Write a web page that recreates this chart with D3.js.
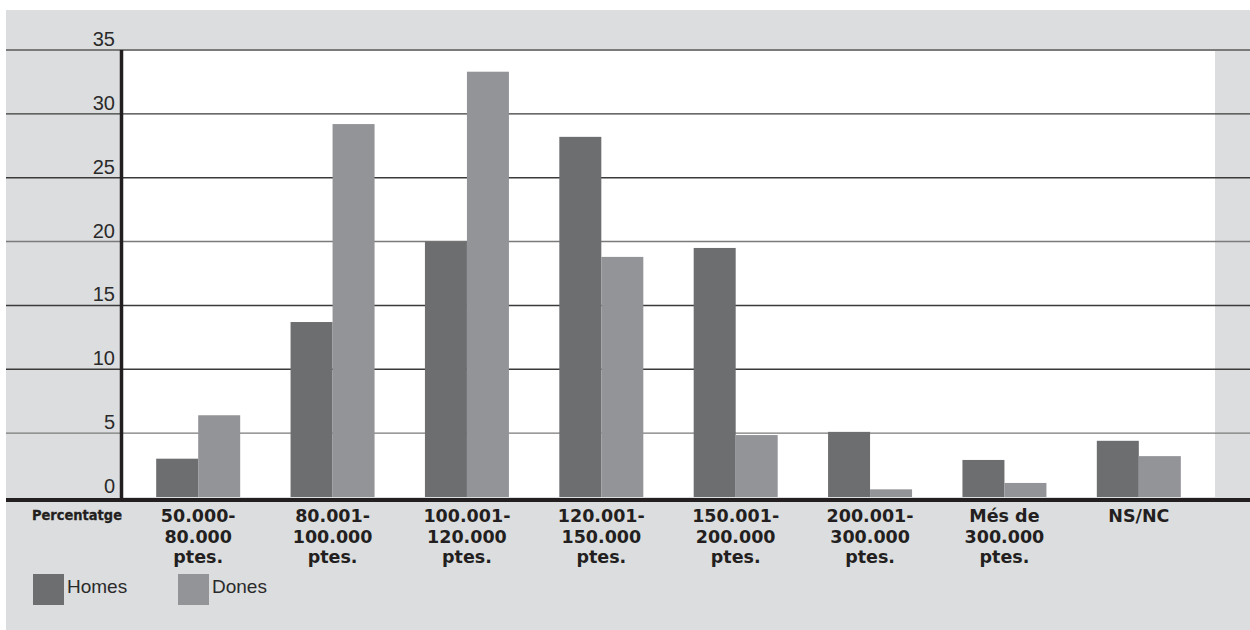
<!DOCTYPE html>
<html><head><meta charset="utf-8">
<script src="https://cdn.jsdelivr.net/npm/d3@7"></script>
<style>html,body{margin:0;padding:0;background:#fff;}svg{display:block;}</style>
</head><body>
<svg id="c" width="1250" height="630"></svg>
<script>
const categories = [
  ["50.000-","80.000","ptes."],
  ["80.001-","100.000","ptes."],
  ["100.001-","120.000","ptes."],
  ["120.001-","150.000","ptes."],
  ["150.001-","200.000","ptes."],
  ["200.001-","300.000","ptes."],
  ["Més de","300.000","ptes."],
  ["NS/NC"]
];
const seriesNames = ["Homes","Dones"];
const homes = [3.0, 13.7, 20.0, 28.2, 19.5, 5.1, 2.9, 4.4];
const dones = [6.4, 29.2, 33.3, 18.8, 4.85, 0.6, 1.1, 3.2];
const yTicks = [0,5,10,15,20,25,30,35];
const colors = ["#6d6e70","#939498"];

const svg = d3.select("#c");
const bg = "#dcdddf";
svg.append("rect").attr("x",6).attr("y",10).attr("width",1244).attr("height",620).attr("fill",bg);

const y = d3.scaleLinear().domain([0,35]).range([497,50]);
const idx = d3.range(categories.length);
const x0 = d3.scaleBand().domain(idx).range([131,1206]).padding(0);
const barW = 42;
const x1 = d3.scaleBand().domain(seriesNames).range([0, barW*2]).padding(0);

svg.append("rect").attr("x",122).attr("y",y(35)).attr("width",1215-122).attr("height",y(0)-y(35)).attr("fill","#fff");

svg.append("g").selectAll("line").data(yTicks.filter(d=>d>0)).join("line")
  .attr("x1",6).attr("x2",1250)
  .attr("y1",d=>y(d)).attr("y2",d=>y(d))
  .attr("stroke",d=> (d===35||d===5||d===20) ? "#7a7a7a" : "#3a3a3a")
  .attr("stroke-width",d=> d===35 ? 2 : 1.4);

svg.append("g").selectAll("text").data(yTicks).join("text")
  .attr("x",115).attr("y",d=>y(d)-4)
  .attr("text-anchor","end")
  .attr("font-family","Liberation Sans, Arial, sans-serif")
  .attr("font-size",20).attr("fill","#2a2a2a")
  .text(d=>d);

const data = idx.map(i=>({i, vals:[{k:"Homes",v:homes[i]},{k:"Dones",v:dones[i]}]}));
const g = svg.append("g").selectAll("g").data(data).join("g")
  .attr("transform",d=>`translate(${x0(d.i)+x0.bandwidth()/2-barW},0)`);
g.selectAll("rect").data(d=>d.vals).join("rect")
  .attr("x",d=>x1(d.k)).attr("width",x1.bandwidth())
  .attr("y",d=>y(d.v)).attr("height",d=>y(0)-y(d.v))
  .attr("fill",(d,j)=>colors[j]);

svg.append("line").attr("x1",121.5).attr("x2",121.5).attr("y1",y(35)).attr("y2",y(0)+2)
  .attr("stroke","#231f20").attr("stroke-width",3.5);
svg.append("line").attr("x1",6).attr("x2",1250).attr("y1",y(0)+3).attr("y2",y(0)+3)
  .attr("stroke","#231f20").attr("stroke-width",4);

const xl = svg.append("g").selectAll("text").data(data).join("text")
  .attr("text-anchor","middle")
  .attr("font-family","DejaVu Sans, sans-serif").attr("font-weight","bold")
  .attr("font-size",17.5).attr("fill","#231f20")
  .attr("x",d=>x0(d.i)+x0.bandwidth()/2)
  .attr("y",522);
xl.selectAll("tspan").data(d=>categories[d.i].map(t=>({t,x:x0(d.i)+x0.bandwidth()/2}))).join("tspan")
  .attr("x",d=>d.x).attr("dy",(d,j)=>j===0?0:20.5).text(d=>d.t);

svg.append("text").attr("x",32).attr("y",520)
  .attr("font-family","DejaVu Sans, sans-serif").attr("font-weight","900")
  .attr("font-size",14).attr("fill","#231f20").attr("stroke","#231f20").attr("stroke-width",0.3)
  .attr("textLength",90).attr("lengthAdjust","spacingAndGlyphs")
  .text("Percentatge");

const leg = svg.append("g").selectAll("g").data(seriesNames).join("g")
  .attr("transform",(d,i)=>`translate(${33+i*145},574)`);
leg.append("rect").attr("width",31).attr("height",31).attr("fill",(d,i)=>colors[i]);
leg.append("text").attr("x",34).attr("y",19).attr("font-family","Liberation Sans, Arial, sans-serif")
  .attr("font-size",19).attr("fill","#2a2a2a").text(d=>d);
</script>
</body></html>
